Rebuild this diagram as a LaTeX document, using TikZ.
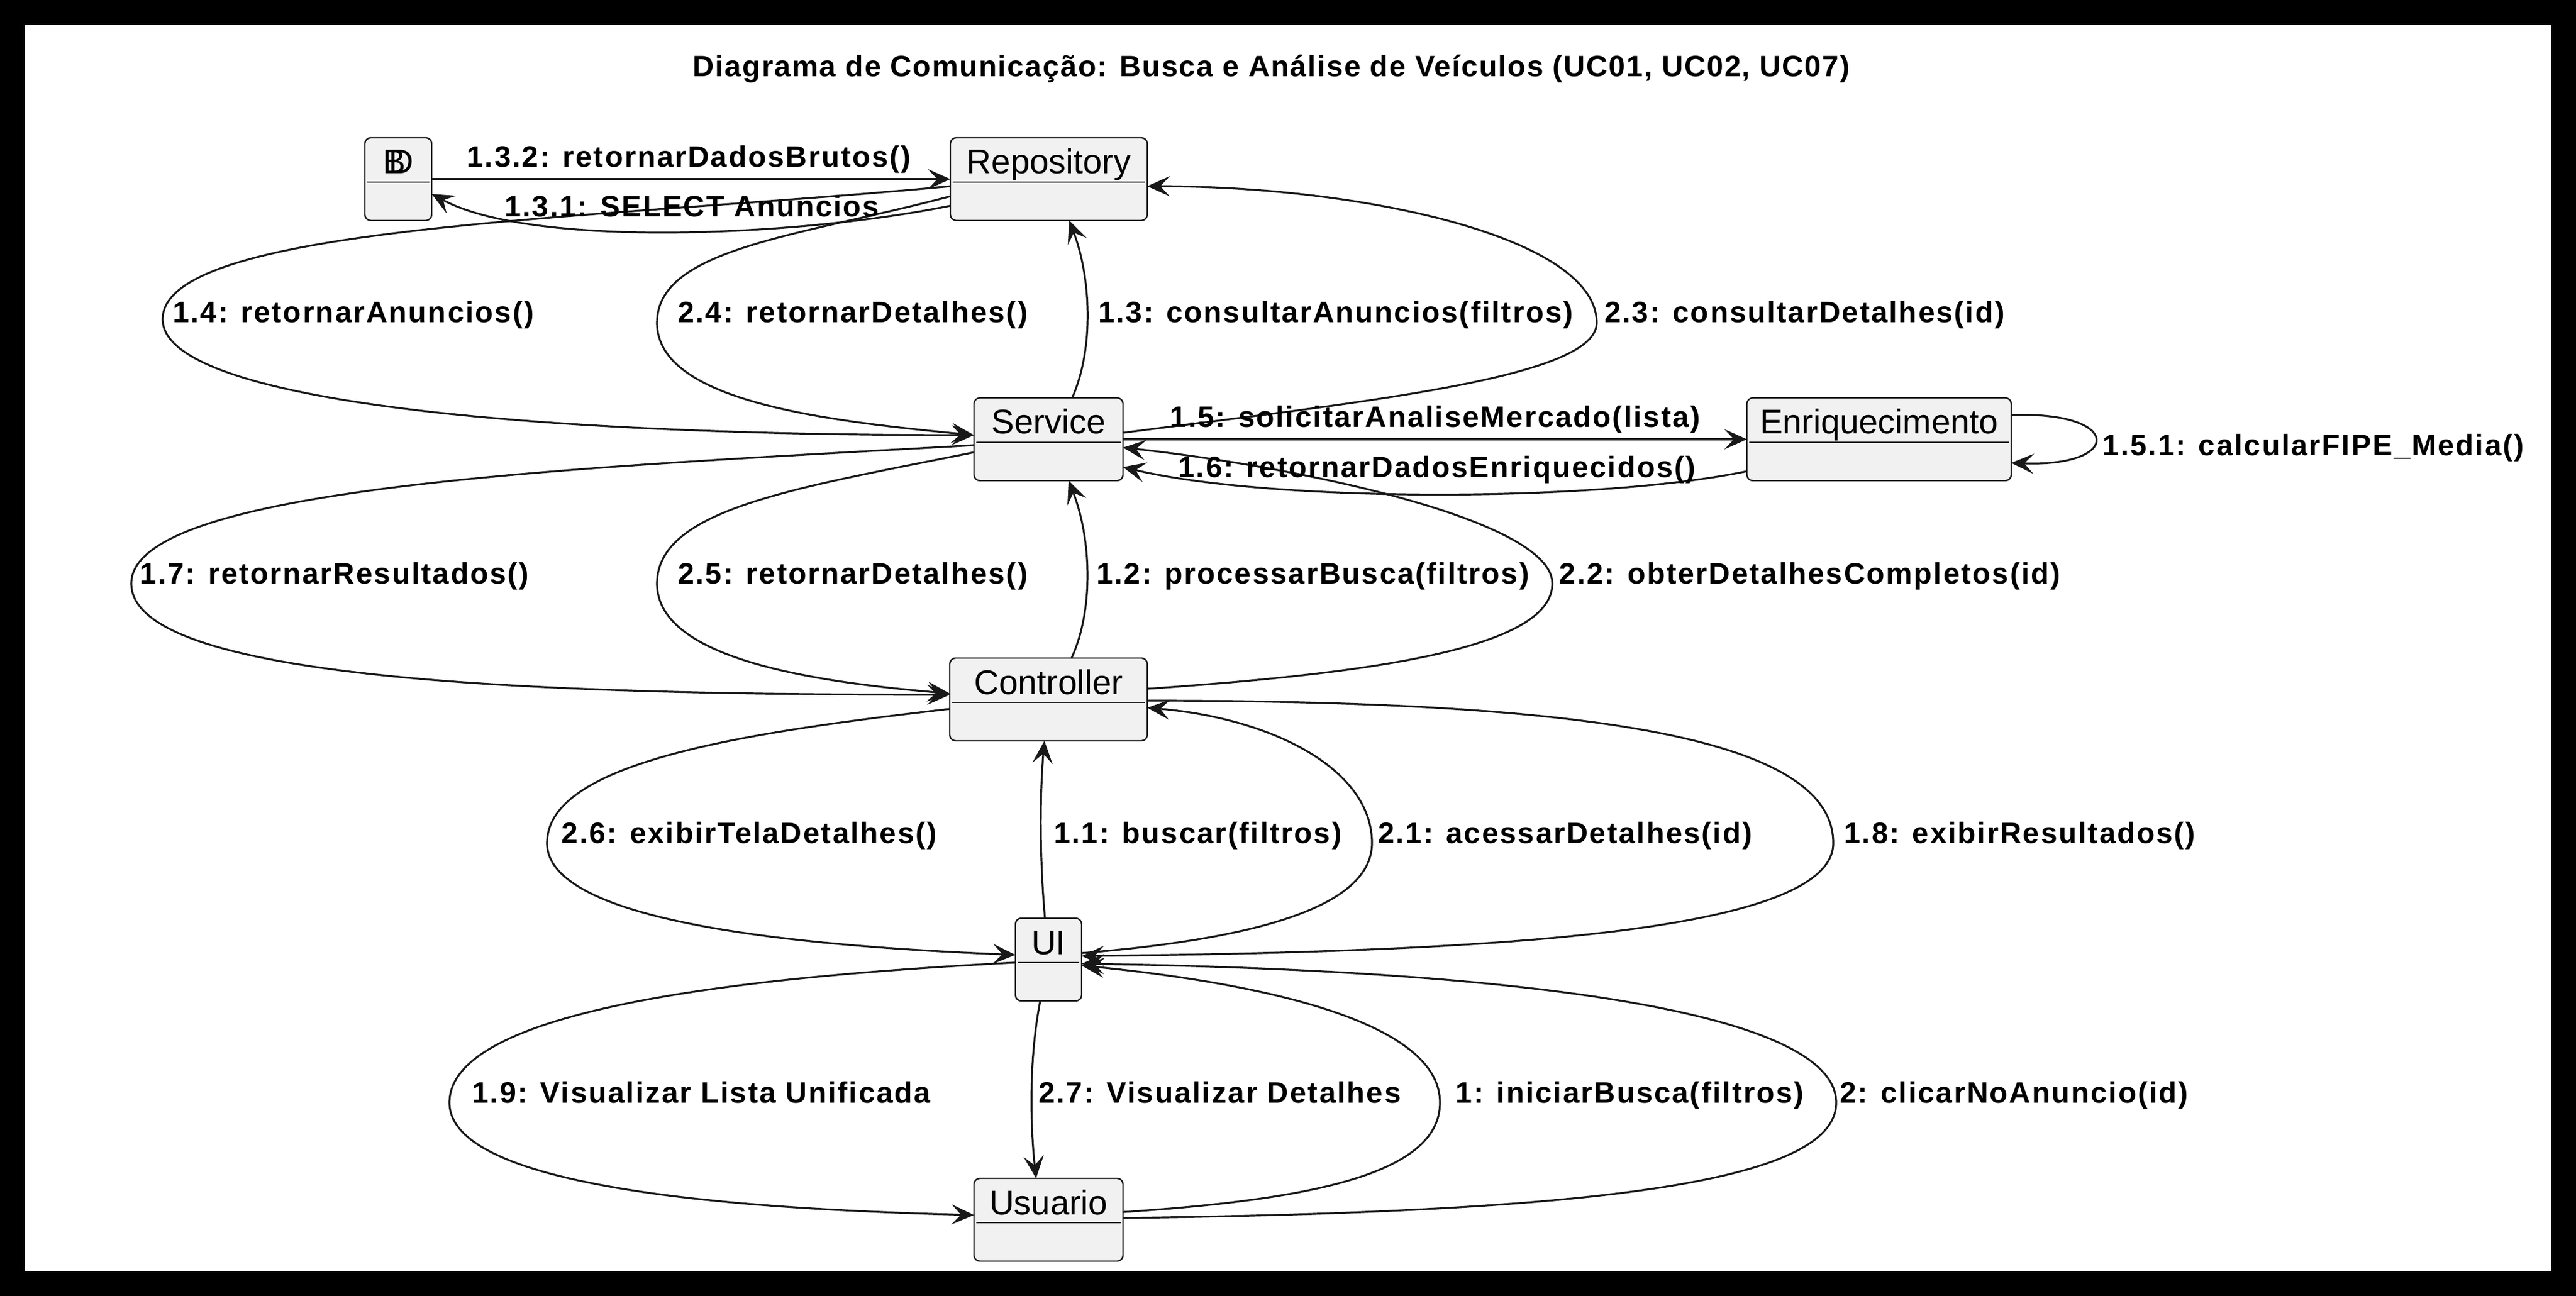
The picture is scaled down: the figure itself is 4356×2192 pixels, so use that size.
\documentclass[tikz,border=0pt]{standalone}
\usepackage{fontspec}
\setmainfont{Liberation Sans}
\newfontfamily\lblfont[LetterSpace=5]{Liberation Sans}
\newfontfamily\ttlfont[LetterSpace=4]{Liberation Sans}
\usetikzlibrary{arrows.meta,calc}
\definecolor{linec}{HTML}{181818}
\definecolor{boxfill}{HTML}{F1F1F1}
\tikzset{
  objbox/.style={draw=linec, fill=boxfill, rounded corners=2.5pt, line width=0.6pt, inner sep=0pt, outer sep=0pt, minimum height=35pt},
  hdrline/.style={draw=linec, line width=0.5pt},
  objname/.style={anchor=base, inner sep=0pt, font=\fontsize{14.5}{17}\selectfont},
  msg/.style={anchor=base, inner sep=0pt, font=\lblfont\bfseries\fontsize{12.5}{15}\selectfont},
  conn/.style={draw=linec, line width=0.8pt, -{Stealth[length=9.5pt, width=8.5pt, inset=4pt]}},
  titletext/.style={anchor=base, inner sep=0pt, font=\ttlfont\bfseries\fontsize{12.5}{15}\selectfont},
}
\begin{document}
\begin{tikzpicture}[x=0.25pt, y=-0.25pt]
\useasboundingbox (0,0) rectangle (4356,2192);
\fill[black] (0,0) rectangle (4356,2192);
\fill[white] (42,42) rectangle (4314,2150);

\node[titletext] (title) at (2150,130) {Diagrama de Comunicação: Busca e Análise de Veículos (UC01, UC02, UC07)};

% objects
\node[objbox, minimum width=28.25pt] (bd) at (673.5,303) {};
\node[objbox, minimum width=83.25pt] (repo) at (1773.5,303) {};
\node[objbox, minimum width=63pt] (srv) at (1773,743) {};
\node[objbox, minimum width=111.75pt] (enr) at (3177.5,743) {};
\node[objbox, minimum width=83.5pt] (ctl) at (1773,1183) {};
\node[objbox, minimum width=28pt] (ui) at (1773,1623) {};
\node[objbox, minimum width=63pt] (usr) at (1773,2063) {};

\foreach \n in {bd,repo,srv,enr,ctl,ui,usr}{
  \draw[hdrline] ($(\n.west)+(4,5)$) -- ($(\n.east)+(-4,5)$);
}
\node[objname] (bdname) at ($(bd.center)+(0,-9)$) {B\kern-0.5em D};
\node[objname] (reponame) at ($(repo.center)+(0,-9)$) {Repository};
\node[objname] (srvname) at ($(srv.center)+(0,-9)$) {Service};
\node[objname] (enrname) at ($(enr.center)+(0,-9)$) {Enriquecimento};
\node[objname] (ctlname) at ($(ctl.center)+(0,-9)$) {Controller};
\node[objname] (uiname) at ($(ui.center)+(0,-9)$) {UI};
\node[objname] (usrname) at ($(usr.center)+(0,-9)$) {Usuario};

% connectors
\draw[conn] (bd.east) -- (repo.west);
\draw[conn] ($(repo.west)+(0,45)$) .. controls (1350,400) and (900,420) .. ($(bd.east)+(0,25)$);
\draw[conn] ($(repo.west)+(0,12)$) .. controls (1000,372) and (275,380) .. (275,540) .. controls (275,680) and (900,736) .. ($(srv.west)+(0,-7)$);
\draw[conn] ($(repo.west)+(0,29)$) .. controls (1350,400) and (1111,420) .. (1111,546) .. controls (1111,680) and (1400,712) .. ($(srv.west)+(0,-7)$);
\draw[conn] ($(srv.north)+(40,0)$) .. controls (1850,590) and (1845,470) .. ($(repo.south)+(34.5,0)$);
\draw[conn] ($(srv.east)+(0,-11)$) .. controls (2300,680) and (2700,640) .. (2700,546) .. controls (2700,400) and (2300,315) .. ($(repo.east)+(0,12)$);
\draw[conn] (srv.east) -- (enr.west);
\draw[conn] ($(enr.west)+(0,54)$) .. controls (2700,850) and (2150,850) .. ($(srv.east)+(0,47)$);
\draw[conn] ($(enr.east)+(0,-41)$) .. controls (3590,695) and (3590,790) .. ($(enr.east)+(0,40)$);
\draw[conn] ($(srv.west)+(0,10)$) .. controls (1000,790) and (222,820) .. (222,987) .. controls (222,1150) and (900,1175) .. ($(ctl.west)+(0,-8)$);
\draw[conn] ($(srv.west)+(0,22)$) .. controls (1350,825) and (1111,860) .. (1111,987) .. controls (1111,1120) and (1400,1155) .. ($(ctl.west)+(0,-10)$);
\draw[conn] ($(ctl.north)+(39,0)$) .. controls (1850,1030) and (1845,910) .. ($(srv.south)+(34,0)$);
\draw[conn] ($(ctl.east)+(0,-18)$) .. controls (2300,1140) and (2625,1100) .. (2625,987) .. controls (2625,880) and (2200,790) .. ($(srv.east)+(0,14)$);
\draw[conn] ($(ctl.west)+(0,16)$) .. controls (1250,1240) and (925,1290) .. (925,1426) .. controls (925,1560) and (1350,1600) .. ($(ui.west)+(0,-8)$);
\draw[conn] ($(ui.north)+(-6,0)$) .. controls (1758,1450) and (1758,1350) .. ($(ctl.south)+(-7,0)$);
\draw[conn] ($(ui.east)+(0,-11)$) .. controls (2100,1590) and (2320,1540) .. (2320,1426) .. controls (2320,1300) and (2150,1215) .. ($(ctl.east)+(0,14)$);
\draw[conn] ($(ctl.east)+(0,2)$) .. controls (2700,1185) and (3100,1250) .. (3100,1426) .. controls (3100,1580) and (2500,1610) .. ($(ui.east)+(0,-6)$);
\draw[conn] ($(ui.west)+(0,5)$) .. controls (1300,1650) and (760,1700) .. (760,1865) .. controls (760,2010) and (1250,2045) .. ($(usr.west)+(0,-8)$);
\draw[conn] ($(ui.south)+(-14,0)$) .. controls (1740,1790) and (1742,1900) .. ($(usr.north)+(-21,0)$);
\draw[conn] ($(usr.east)+(0,-13)$) .. controls (2200,2030) and (2435,1990) .. (2435,1865) .. controls (2435,1720) and (2100,1660) .. ($(ui.east)+(0,10)$);
\draw[conn] ($(usr.east)+(0,-3)$) .. controls (2700,2050) and (3105,2000) .. (3105,1865) .. controls (3105,1700) and (2500,1640) .. ($(ui.east)+(0,7)$);

% labels
\node[msg] (m132) at (1165,283) {1.3.2: retornarDadosBrutos()};
\node[msg] (m131) at (1170,367) {1.3.1: SELECT Anuncios};
\node[msg] (m14) at (597.5,546) {1.4: retornarAnuncios()};
\node[msg] (m24) at (1442,546) {2.4: retornarDetalhes()};
\node[msg] (m13) at (2258.5,546) {1.3: consultarAnuncios(filtros)};
\node[msg] (m23) at (3051.5,546) {2.3: consultarDetalhes(id)};
\node[msg] (m15) at (2427,723) {1.5: solicitarAnaliseMercado(lista)};
\node[msg] (m16) at (2430,807) {1.6: retornarDadosEnriquecidos()};
\node[msg] (m151) at (3912,771) {1.5.1: calcularFIPE\_Media()};
\node[msg] (m17) at (565.5,987) {1.7: retornarResultados()};
\node[msg] (m25) at (1442,987) {2.5: retornarDetalhes()};
\node[msg] (m12) at (2220,987) {1.2: processarBusca(filtros)};
\node[msg, anchor=base west] (m22) at (2636,987) {2.2: obterDetalhesCompletos(id)};
\node[msg] (m26) at (1267,1426) {2.6: exibirTelaDetalhes()};
\node[msg] (m11) at (2025.5,1426) {1.1: buscar(filtros)};
\node[msg] (m21) at (2646.5,1426) {2.1: acessarDetalhes(id)};
\node[msg] (m18) at (3415.5,1426) {1.8: exibirResultados()};
\node[msg] (m19) at (1186,1865) {1.9: Visualizar Lista Unificada};
\node[msg] (m27) at (2062.5,1865) {2.7: Visualizar Detalhes};
\node[msg] (m1) at (2756,1865) {1: iniciarBusca(filtros)};
\node[msg] (m2) at (3406,1865) {2: clicarNoAnuncio(id)};
\end{tikzpicture}
\end{document}
